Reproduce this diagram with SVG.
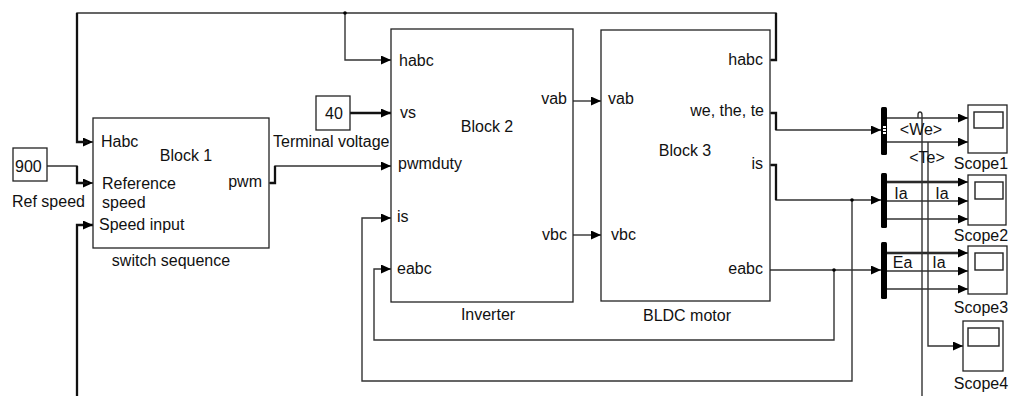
<svg xmlns="http://www.w3.org/2000/svg" width="1010" height="396" viewBox="0 0 1010 396">
<style>
text{font-family:"Liberation Sans",Arial,sans-serif;font-size:16px;fill:#111}
.blk{fill:#fff;stroke:#222;stroke-width:1.3}
.ln{fill:none;stroke:#333;stroke-width:1.4}
.th{fill:none;stroke:#111;stroke-width:2.3}
.bar{fill:#000}
.scr{fill:#fff;stroke:#222;stroke-width:1.4}
.end{text-anchor:end}
.mid{text-anchor:middle}
</style>
<defs>
<marker id="a" markerUnits="userSpaceOnUse" markerWidth="11" markerHeight="10" refX="10" refY="4.5" orient="auto">
<path d="M0,0 L10,4.5 L0,9 z" fill="#000"/>
</marker>
</defs>
<rect width="1010" height="396" fill="#fff"/>
<g id="connectors">
<path class="ln" d="M770,60 H776 V13 H77 V142 H93" marker-end="url(#a)"/>
<path class="th" d="M77,13 V142 H88"/>
<path class="th" d="M776,13 V60 H771"/>
<path class="ln" d="M345,13 V60 H391" marker-end="url(#a)"/>
<circle cx="345" cy="13" r="1.8" fill="#000"/>
<path class="ln" d="M47,166 H77 V183 H93" marker-end="url(#a)"/>
<path class="th" d="M77,166 V183 H88"/>
<path class="th" d="M77,396 V225 H93" marker-end="url(#a)"/>
<path class="ln" d="M269,183 H275 V166 H391" marker-end="url(#a)"/>
<path class="th" d="M270,183 H275 V166"/>
<path class="th" d="M350,113 H391" marker-end="url(#a)"/>
<path class="ln" d="M573,101 H601" marker-end="url(#a)"/>
<path class="ln" d="M573,235 H601" marker-end="url(#a)"/>
<path class="ln" d="M770,113 H776 V130 H881" marker-end="url(#a)"/>
<path class="th" d="M771,113 H776 V130"/>
<path class="ln" d="M770,165 H776 V200 H881" marker-end="url(#a)"/>
<path class="th" d="M771,165 H776 V200"/>
<path class="ln" d="M852,200 V381 H362 V218 H391" marker-end="url(#a)"/>
<circle cx="852" cy="200" r="1.8" fill="#000"/>
<path class="ln" d="M770,270 H881" marker-end="url(#a)"/>
<path class="ln" d="M834,270 V340 H374 V269 H391" marker-end="url(#a)"/>
<circle cx="834" cy="270" r="1.8" fill="#000"/>
<path class="ln" d="M887,118 H968" marker-end="url(#a)"/>
<path class="ln" d="M887,142 H968" marker-end="url(#a)"/>
<path class="th" d="M887,182 H962"/>
<path class="ln" d="M887,182 H968" marker-end="url(#a)"/>
<path class="ln" d="M887,201 H968" marker-end="url(#a)"/>
<path class="ln" d="M887,219 H968" marker-end="url(#a)"/>
<path class="th" d="M887,253 H962"/>
<path class="ln" d="M887,253 H968" marker-end="url(#a)"/>
<path class="ln" d="M887,271 H968" marker-end="url(#a)"/>
<path class="ln" d="M887,289 H968" marker-end="url(#a)"/>
<path class="ln" d="M918,118 V115 Q918,112 920,112 Q922,112 922,115 V396"/>
<path class="ln" d="M928,142 V346 H963" marker-end="url(#a)"/>
</g>
<g id="ref-speed">
<rect class="blk" x="13" y="148" width="34" height="33"/>
<text x="15" y="172">900</text>
<text x="12" y="207">Ref speed</text>
</g>
<g id="block1">
<rect class="blk" x="93" y="118" width="176" height="130"/>
<text x="101" y="147">Habc</text>
<text x="186" y="161" class="mid">Block 1</text>
<text x="102" y="189">Reference</text>
<text x="102" y="208">speed</text>
<text x="99" y="230">Speed input</text>
<text x="262" y="187" class="end">pwm</text>
<text x="171" y="266" class="mid">switch sequence</text>
</g>
<g id="terminal-voltage">
<rect class="blk" x="316" y="96" width="34" height="34"/>
<text x="334" y="118.5" class="mid">40</text>
<text x="273" y="147">Terminal voltage</text>
</g>
<g id="block2">
<rect class="blk" x="391" y="29" width="182" height="273"/>
<text x="399" y="66">habc</text>
<text x="400" y="118">vs</text>
<text x="487" y="131.5" class="mid">Block 2</text>
<text x="398" y="169">pwmduty</text>
<text x="397" y="222">is</text>
<text x="397" y="274">eabc</text>
<text x="567" y="104" class="end">vab</text>
<text x="567" y="240" class="end">vbc</text>
<text x="488" y="320" class="mid">Inverter</text>
</g>
<g id="block3">
<rect class="blk" x="601" y="30" width="169" height="271"/>
<text x="608" y="104">vab</text>
<text x="611" y="240">vbc</text>
<text x="763" y="65" class="end">habc</text>
<text x="764" y="116" class="end">we, the, te</text>
<text x="685" y="155.5" class="mid">Block 3</text>
<text x="763" y="169" class="end">is</text>
<text x="763" y="274" class="end">eabc</text>
<text x="687" y="320.5" class="mid">BLDC motor</text>
</g>
<g id="bus-selector">
<rect class="bar" x="881" y="107" width="6" height="48" rx="1.5"/>
<rect x="883" y="126" width="3" height="2" fill="#fff"/>
<rect x="883" y="129" width="3" height="2" fill="#fff"/>
<rect x="883" y="132" width="3" height="2" fill="#fff"/>
<text x="921" y="134.5" class="mid">&lt;We&gt;</text>
<text x="927" y="162.5" class="mid">&lt;Te&gt;</text>
</g>
<g id="demux-is">
<rect class="bar" x="881" y="173" width="6" height="55" rx="1.5"/>
<text x="901" y="199" class="mid">Ia</text>
<text x="942" y="199" class="mid">Ia</text>
</g>
<g id="demux-eabc">
<rect class="bar" x="881" y="242" width="6" height="57" rx="1.5"/>
<text x="902.5" y="268" class="mid">Ea</text>
<text x="939" y="268" class="mid">Ia</text>
</g>
<g id="scope1">
<rect class="blk" x="968" y="105" width="39" height="48"/>
<rect class="scr" x="974" y="112" width="29" height="16"/>
<text x="981" y="168.5" class="mid">Scope1</text>
</g>
<g id="scope2">
<rect class="blk" x="968" y="175" width="38" height="50"/>
<rect class="scr" x="975" y="182" width="28" height="17"/>
<text x="981" y="240.5" class="mid">Scope2</text>
</g>
<g id="scope3">
<rect class="blk" x="968" y="246" width="39" height="48"/>
<rect class="scr" x="975" y="253" width="28" height="17"/>
<text x="981" y="312.5" class="mid">Scope3</text>
</g>
<g id="scope4">
<rect class="blk" x="963" y="321" width="40" height="50"/>
<rect class="scr" x="968" y="328" width="31" height="18"/>
<text x="981" y="388.5" class="mid">Scope4</text>
</g>
</svg>
